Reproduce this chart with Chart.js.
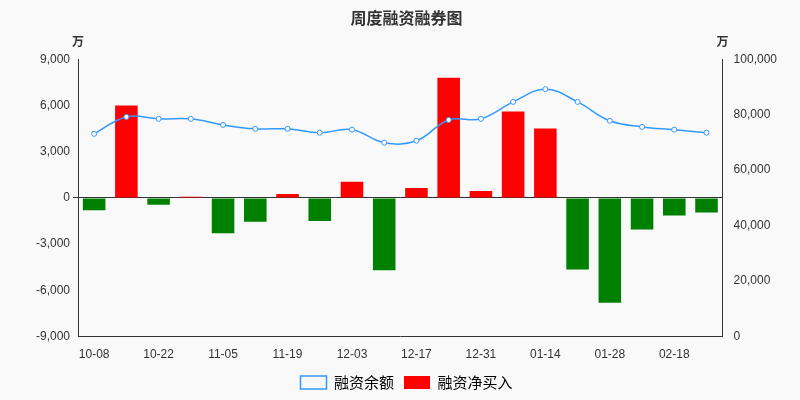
<!DOCTYPE html>
<html><head><meta charset="utf-8">
<script src="https://cdn.jsdelivr.net/npm/chart.js@4/dist/chart.umd.min.js"></script>
<style>html,body{margin:0;background:#f9f9f9}#wrap{width:800px;height:400px}</style>
</head><body><div id="wrap"><canvas id="c"></canvas></div>
<script>
const labels = ['10-08','10-15','10-22','10-29','11-05','11-12','11-19','11-26','12-03','12-10','12-17','12-24','12-31','01-07','01-14','01-21','01-28','02-04','02-18','02-25'];
const netBuy = [-800,6000,-450,80,-2300,-1550,250,-1500,1050,-4700,650,7800,450,5600,4500,-4650,-6800,-2050,-1150,-950];
const balance = [73100,79200,78500,78500,76300,74900,74900,73500,74600,69900,70600,78100,78500,84600,89200,84600,77800,75600,74600,73500];
const leftTicks = [-9000,-6000,-3000,0,3000,6000,9000];

const unitPlugin = {
  id: 'units',
  afterDraw(chart) {
    const c = chart.ctx, a = chart.chartArea;
    c.save();
    c.font = 'bold 12px "Noto Sans CJK SC"';
    c.fillStyle = '#333';
    c.textAlign = 'center';
    c.fillText('万', a.left, a.top - 18);
    c.fillText('万', a.right, a.top - 18);
    c.restore();
  }
};

new Chart(document.getElementById('c'), {
  data: {
    labels,
    datasets: [
      { type: 'line', label: '融资余额', data: balance, yAxisID: 'y1', borderColor: '#3399ff', borderWidth: 1.5,
        backgroundColor: '#fff', pointBorderColor: '#3399ff', pointRadius: 2.5, pointBorderWidth: 1, tension: 0.4, order: 0 },
      { type: 'bar', label: '融资净买入', data: netBuy, yAxisID: 'y', order: 1,
        backgroundColor: netBuy.map(v => v >= 0 ? '#ff0000' : '#008000'), barPercentage: 0.7, categoryPercentage: 1 }
    ]
  },
  options: {
    responsive: true, maintainAspectRatio: false, animation: false,
    layout: { padding: { left: 33, right: 20, top: 2, bottom: 0 } },
    plugins: {
      title: { display: true, text: '周度融资融券图', color: '#333', font: { size: 16, weight: 'bold', family: '"Noto Sans CJK SC"' }, padding: { top: 6, bottom: 32 } },
      legend: { position: 'bottom', labels: { color: '#333', font: { size: 15, family: '"Noto Sans CJK SC"' }, boxWidth: 26, boxHeight: 13,
        generateLabels: chart => [
          { text: '融资余额', fillStyle: 'transparent', strokeStyle: '#3399ff', lineWidth: 1.5, datasetIndex: 0 },
          { text: '融资净买入', fillStyle: '#ff0000', strokeStyle: '#ff0000', lineWidth: 0, datasetIndex: 1 }
        ] } },
      tooltip: { enabled: false }
    },
    scales: {
      x: { grid: { display: false }, border: { color: '#333' },
        ticks: { color: '#333', font: { size: 12 }, maxRotation: 0, autoSkip: false, callback: (v, i) => i % 2 === 0 ? labels[i] : '' } },
      y: { position: 'left', min: -9000, max: 9000, afterBuildTicks: ax => { ax.ticks = leftTicks.map(v => ({ value: v })); },
        grid: { color: ctx => ctx.tick && ctx.tick.value === 0 ? '#333' : 'transparent', tickLength: 5 },
        border: { color: '#333' }, ticks: { color: '#333', font: { size: 12 }, callback: v => v.toLocaleString('en-US') } },
      y1: { position: 'right', min: 0, max: 100000, grid: { display: false }, border: { color: '#333' },
        ticks: { stepSize: 20000, color: '#333', font: { size: 12 }, callback: v => v.toLocaleString('en-US') } }
    }
  },
  plugins: [unitPlugin]
});
</script></body></html>
